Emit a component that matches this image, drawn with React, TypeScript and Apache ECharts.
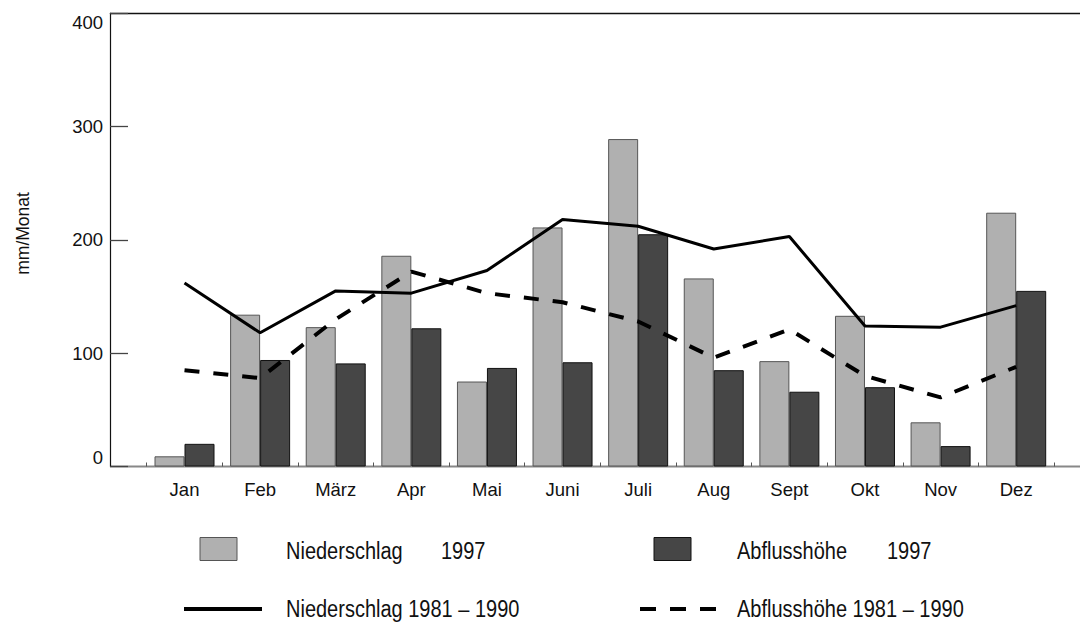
import React, { useEffect, useRef } from "react";
import * as echarts from "echarts";

// Monthly precipitation and runoff, 1997 vs. the 1981–1990 mean
const months = ["Jan", "Feb", "März", "Apr", "Mai", "Juni", "Juli", "Aug", "Sept", "Okt", "Nov", "Dez"];
const niederschlag1997 = [9, 134, 123, 186, 75, 211, 289, 166, 93, 133, 39, 224];
const abfluss1997 = [20, 94, 91, 122, 87, 92, 205, 85, 66, 70, 18, 155];
const niederschlagMittel = [162, 118, 155, 153, 173, 218, 212, 192, 203, 124, 123, 142];
const abflussMittel = [85, 78, 130, 172, 153, 145, 128, 96, 121, 80, 61, 88];

const yMin = 0;
const yMax = 400;
const yStep = 100;
const yName = "mm/Monat";

const seriesNames = [
  "Niederschlag 1997",
  "Abflusshöhe 1997",
  "Niederschlag 1981 – 1990",
  "Abflusshöhe 1981 – 1990",
];

const FONT = "'Liberation Sans', Arial, Helvetica, sans-serif";
const LIGHT = "#b0b0b0";
const DARK = "#464646";

export default function App() {
  const ref = useRef<HTMLDivElement>(null);

  useEffect(() => {
    document.body.style.margin = "0";
    const chart = echarts.init(ref.current!, null, { renderer: "svg" });

    // legend captions are slightly tall-set
    const legendText = (x: number, y: number, text: string) => ({
      type: "text",
      x,
      y,
      scaleY: 1.15,
      style: {
        text,
        font: `20px ${FONT}`,
        fill: "#111",
        textVerticalAlign: "middle",
      },
    });

    const option: echarts.EChartsOption = {
      animation: false,
      backgroundColor: "#fff",
      textStyle: { fontFamily: FONT },
      grid: { left: 146.7, right: 28, top: 13.3, bottom: 156.5 },
      xAxis: {
        type: "category",
        data: months,
        boundaryGap: true,
        axisLine: { show: false },
        axisTick: { show: true, inside: true, length: 4, lineStyle: { color: "#555", width: 1 } },
        axisLabel: { fontSize: 18.5, color: "#111", margin: 13, fontFamily: FONT },
        splitLine: { show: false },
      },
      yAxis: {
        type: "value",
        min: yMin,
        max: yMax,
        interval: yStep,
        offset: 36.7,
        name: yName,
        nameLocation: "middle",
        nameGap: 78,
        nameRotate: 90,
        nameTextStyle: { fontSize: 17.5, color: "#111", fontFamily: FONT, padding: [0, 0, 0, 13] },
        axisLine: { show: true, lineStyle: { color: "#111", width: 1.2 } },
        axisTick: { show: true, inside: true, length: 18, lineStyle: { color: "#444", width: 1.3 } },
        axisLabel: {
          fontSize: 18.5,
          color: "#111",
          margin: 7,
          fontFamily: FONT,
          verticalAlignMaxLabel: "top",
          verticalAlignMinLabel: "bottom",
        } as any,
        splitLine: { show: false },
      },
      series: [
        {
          name: seriesNames[0],
          type: "bar",
          data: niederschlag1997,
          barWidth: 30,
          barGap: "0%",
          itemStyle: { color: LIGHT, borderColor: "#555", borderWidth: 1 },
        },
        {
          name: seriesNames[1],
          type: "bar",
          data: abfluss1997,
          barWidth: 30,
          barGap: "0%",
          itemStyle: { color: DARK, borderColor: "#111", borderWidth: 1 },
        },
        {
          name: seriesNames[2],
          type: "line",
          data: niederschlagMittel,
          showSymbol: false,
          symbol: "none",
          lineStyle: { color: "#000", width: 3 },
          itemStyle: { color: "#000" },
          z: 5,
        },
        {
          name: seriesNames[3],
          type: "line",
          data: abflussMittel,
          showSymbol: false,
          symbol: "none",
          lineStyle: { color: "#000", width: 4, type: [15, 14], cap: "butt" },
          itemStyle: { color: "#000" },
          z: 5,
        },
      ],
      graphic: [
        // frame: top border and full-width baseline
        { type: "line", shape: { x1: 110, y1: 13.5, x2: 1080, y2: 13.5 }, style: { stroke: "#111", lineWidth: 1.5 } },
        { type: "line", shape: { x1: 110, y1: 466.5, x2: 1080, y2: 466.5 }, style: { stroke: "#888", lineWidth: 2 } },
        // legend row 1: bar swatches
        { type: "rect", shape: { x: 200, y: 537.5, width: 37, height: 23 }, style: { fill: LIGHT, stroke: "#555", lineWidth: 1 } },
        legendText(286, 551, "Niederschlag"),
        legendText(441, 551, "1997"),
        { type: "rect", shape: { x: 654, y: 537.5, width: 37, height: 23 }, style: { fill: DARK, stroke: "#111", lineWidth: 1 } },
        legendText(737, 551, "Abflusshöhe"),
        legendText(887, 551, "1997"),
        // legend row 2: line samples
        { type: "line", shape: { x1: 184, y1: 609, x2: 262, y2: 609 }, style: { stroke: "#000", lineWidth: 4 } },
        legendText(286, 609, seriesNames[2]),
        { type: "line", shape: { x1: 640, y1: 609, x2: 716, y2: 609 }, style: { stroke: "#000", lineWidth: 4, lineDash: [16, 14] } },
        legendText(737, 609, seriesNames[3]),
      ] as any,
    };

    chart.setOption(option);
    return () => chart.dispose();
  }, []);

  return (
    <div
      ref={ref}
      style={{ position: "fixed", left: 0, top: 0, width: 1082, height: 623, background: "#fff" }}
    />
  );
}
